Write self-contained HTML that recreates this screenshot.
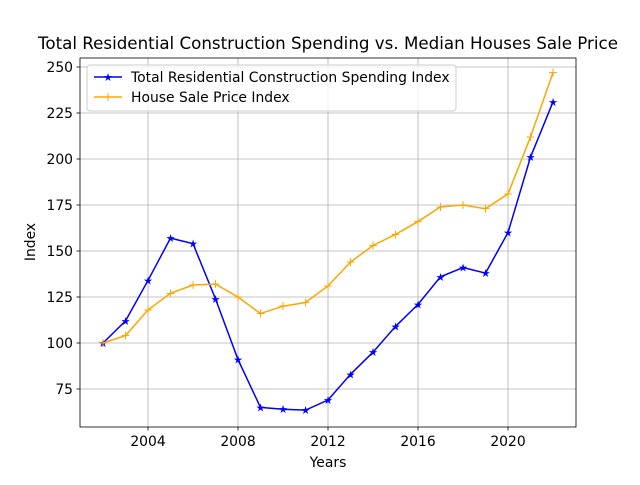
<!DOCTYPE html>
<html><head><meta charset="utf-8"><style>
body{margin:0;background:#fff;font-family:"Liberation Sans","DejaVu Sans",sans-serif}
svg text{font-family:"DejaVu Sans","Liberation Sans",sans-serif}
</style></head><body>
<svg id="chart" width="640" height="480" xmlns="http://www.w3.org/2000/svg">
<rect width="640" height="480" fill="#fff"/>
<g id="grid"></g><g id="series"></g><g id="axes"></g>
<text x="328" y="49" font-size="16.7" text-anchor="middle">Total Residential Construction Spending vs. Median Houses Sale Price</text>
<text x="328" y="467" font-size="13.9" text-anchor="middle">Years</text>
<text x="35" y="242" font-size="13.9" text-anchor="middle" transform="rotate(-90 35 242)">Index</text>
<g>
<rect x="87" y="65" width="369" height="46" fill="#fff" fill-opacity="0.8" stroke="#ccc" rx="3"/>
<line x1="94" y1="77" x2="122" y2="77" stroke="blue" stroke-width="1.5"/>
<text x="108" y="81" font-size="11" text-anchor="middle" fill="blue">★</text>
<text x="131" y="82" font-size="13.9">Total Residential Construction Spending Index</text>
<line x1="94" y1="97" x2="122" y2="97" stroke="orange" stroke-width="1.5"/>
<text x="108" y="101" font-size="12" text-anchor="middle" fill="orange">+</text>
<text x="131" y="102" font-size="13.9">House Sale Price Index</text>
</g>
</svg>
<script>
const years=[2002,2003,2004,2005,2006,2007,2008,2009,2010,2011,2012,2013,2014,2015,2016,2017,2018,2019,2020,2021,2022];
const spending=[100,112,134,157,154,124,91,65,64,63.5,69,83,95,109,121,136,141,138,160,201,231];
const price=[100,104,118,127,131.5,132,125,116,120,122,131,144,153,159,166,174,175,173,181,212,247];
const xTicks=[2004,2008,2012,2016,2020];
const yTicks=[75,100,125,150,175,200,225,250];
const L=80,R=576,T=58,B=427;
const xs=y=>148+(y-2004)*22.5;
const ys=v=>343-(v-100)*1.84;
const NS="http://www.w3.org/2000/svg";
function mk(t,a,p){const e=document.createElementNS(NS,t);for(const k in a)e.setAttribute(k,a[k]);p.appendChild(e);return e;}
const grid=document.getElementById('grid'),ax=document.getElementById('axes'),se=document.getElementById('series');
xTicks.forEach(t=>{const x=xs(t);
mk('line',{x1:x,x2:x,y1:T,y2:B,stroke:'#b0b0b0','stroke-width':0.8},grid);
mk('line',{x1:x,x2:x,y1:B,y2:B+3.5,stroke:'#000','stroke-width':0.8},ax);
const tx=mk('text',{x:x,y:B+19,'font-size':13.9,'text-anchor':'middle'},ax);tx.textContent=t;

});
yTicks.forEach(t=>{const y=ys(t);
mk('line',{x1:L,x2:R,y1:y,y2:y,stroke:'#b0b0b0','stroke-width':0.8},grid);
mk('line',{x1:L-3.5,x2:L,y1:y,y2:y,stroke:'#000','stroke-width':0.8},ax);
const tx=mk('text',{x:L-7,y:y+5,'font-size':13.9,'text-anchor':'end'},ax);tx.textContent=t;

});
mk('rect',{x:L,y:T,width:R-L,height:B-T,fill:'none',stroke:'#000','stroke-width':0.8},ax);
function draw(vals,color,marker,name){
const pl=mk('polyline',{points:vals.map((v,i)=>xs(years[i])+','+ys(v)).join(' '),fill:'none',stroke:color,'stroke-width':1.5},se);


vals.forEach((v,i)=>{const t=mk('text',{x:xs(years[i]),y:ys(v)+4,'font-size':marker==='★'?11:12,'text-anchor':'middle',fill:color},se);t.textContent=marker;

});}
draw(spending,'blue','★','spending');
draw(price,'orange','+','price');
</script>
</body></html>
